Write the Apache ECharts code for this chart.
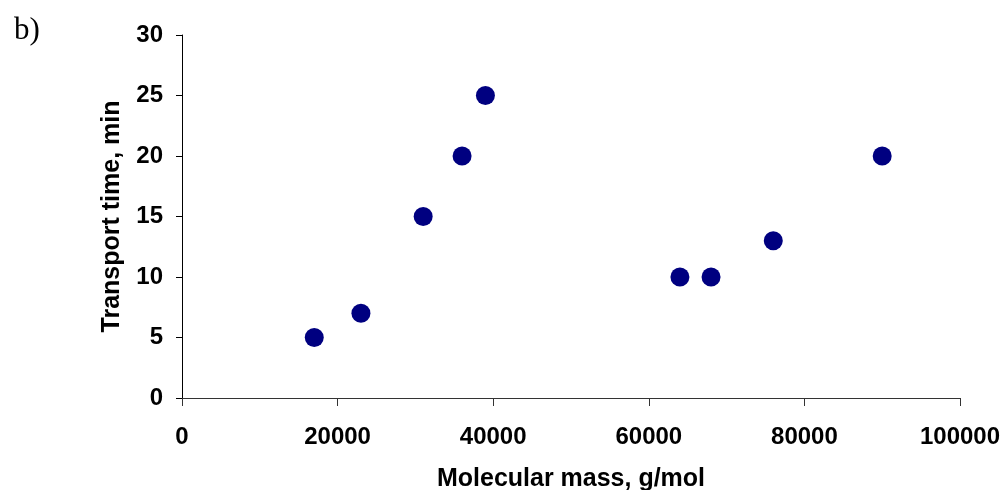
<!DOCTYPE html>
<html>
<head>
<meta charset="utf-8">
<script src="https://cdn.jsdelivr.net/npm/echarts@6/dist/echarts.min.js"></script>
<style>
  html, body { margin: 0; padding: 0; background: #fff; }
  #chart { width: 1006px; height: 490px; }
</style>
</head>
<body>
<div id="chart"></div>
<script>
// Molecular mass (g/mol) and transport time (min) of each protein
const molecularMass = [17000, 23000, 31000, 36000, 39000, 64000, 68000, 76000, 90000];
const transportTime = [5, 7, 15, 20, 25, 10, 10, 13, 20];

const xTitle = 'Molecular mass, g/mol';
const yTitle = 'Transport time, min';
const panelLabel = 'b)';

const points = molecularMass.map((m, i) => [m, transportTime[i]]);

const fontFamily = '"Liberation Sans", Arial, sans-serif';
const tickFont = { fontFamily, fontWeight: 'bold', fontSize: 24, color: '#000' };
const titleFont = { fontFamily, fontWeight: 'bold', fontSize: 25, color: '#000' };

const chart = echarts.init(document.getElementById('chart'), null, { renderer: 'canvas' });
chart.setOption({
  animation: false,
  backgroundColor: '#fff',
  title: {
    text: panelLabel,
    left: 9,
    top: 10,
    textStyle: {
      fontFamily: '"Liberation Serif", "DejaVu Serif", serif',
      fontWeight: 'normal',
      fontSize: 31,
      color: '#000'
    }
  },
  grid: { left: 182, right: 46, top: 35, bottom: 92, containLabel: false, outerBoundsMode: 'none' },
  xAxis: {
    type: 'value',
    min: 0,
    max: 100000,
    interval: 20000,
    name: xTitle,
    nameLocation: 'middle',
    nameGap: 69,
    nameTextStyle: titleFont,
    axisLine: { show: true, onZero: false, lineStyle: { color: '#333', width: 1 } },
    axisTick: { show: true, inside: false, length: 8, lineStyle: { color: '#333' } },
    axisLabel: Object.assign({ margin: 27, formatter: v => String(v) }, tickFont),
    splitLine: { show: false }
  },
  yAxis: {
    type: 'value',
    min: 0,
    max: 30,
    interval: 5,
    name: yTitle,
    nameLocation: 'middle',
    nameGap: 57,
    nameTextStyle: titleFont,
    axisLine: { show: true, onZero: false, lineStyle: { color: '#000', width: 1 } },
    axisTick: { show: true, inside: false, length: 6, lineStyle: { color: '#000' } },
    axisLabel: Object.assign({ margin: 19, formatter: v => String(v) }, tickFont),
    splitLine: { show: false }
  },
  series: [{
    type: 'scatter',
    data: points,
    symbol: 'circle',
    symbolSize: 19,
    itemStyle: { color: '#000080', opacity: 1 }
  }]
});
</script>
</body>
</html>
